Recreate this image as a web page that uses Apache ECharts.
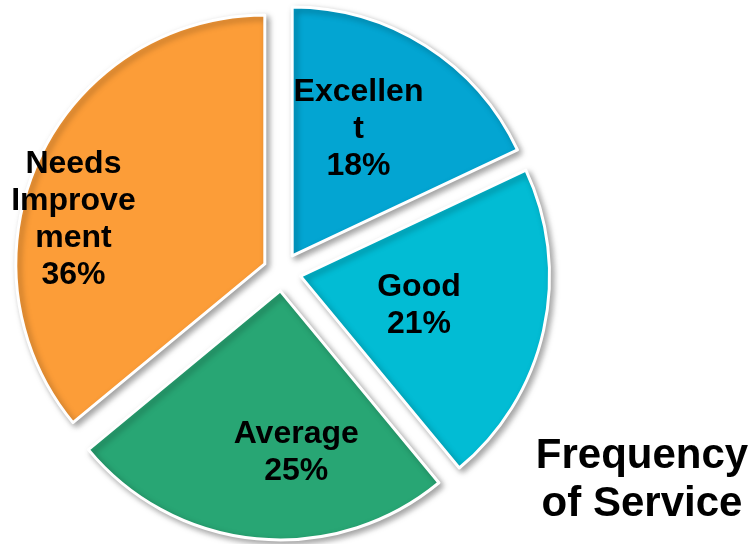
<!DOCTYPE html>
<html lang="en">
<head>
    <meta charset="UTF-8">
    <title>Frequency of Service</title>
    <script src="https://cdn.jsdelivr.net/npm/echarts@6/dist/echarts.min.js"></script>
    <style>
        html, body { margin: 0; padding: 0; background: #fff; }
    </style>
</head>
<body>
<div id="main" style="width:751px; height:544px;"></div>
<script>
    // data
    var categories = ['Excellent', 'Good', 'Average', 'Needs Improvement'];
    var shares = [18, 21, 25, 36];
    // how the names wrap inside the slices
    var wrappedNames = ['Excellen\nt', 'Good', 'Average', 'Needs\nImprove\nment'];

    var colors = ['#03a5d2', '#02bcd4', '#28a674', '#fc9d38'];
    // nudges so the labels sit where the original has them
    var labelShift = [[-2, -19], [-6, 2], [28, 35], [-76, 10]];

    var myChart = echarts.init(document.getElementById('main'));

    var pieData = [];
    for (var i = 0; i < categories.length; i++) {
        pieData.push({
            name: categories[i],
            value: shares[i],
            selected: true,
            itemStyle: { color: colors[i] },
            label: {
                formatter: wrappedNames[i] + '\n' + shares[i] + '%'
            }
        });
    }

    myChart.setOption({
        animation: false,
        title: {
            text: 'Frequency\nof Service',
            left: 637,
            top: 427,
            textAlign: 'center',
            textStyle: {
                fontFamily: 'Liberation Sans, Arial, sans-serif',
                fontWeight: 'bold',
                fontSize: 42,
                lineHeight: 48,
                color: '#000'
            }
        },
        series: [{
            type: 'pie',
            center: [282, 272],
            radius: [0, 249],
            startAngle: 90,
            clockwise: true,
            selectedMode: 'multiple',
            selectedOffset: 19,
            emphasis: { disabled: true },
            itemStyle: {
                borderColor: '#fff',
                borderWidth: 3,
                shadowBlur: 6,
                shadowOffsetX: 3,
                shadowOffsetY: 3,
                shadowColor: 'rgba(0,0,0,0.35)'
            },
            label: {
                show: true,
                position: 'inside',
                color: '#000',
                fontFamily: 'Liberation Sans, Arial, sans-serif',
                fontWeight: 'bold',
                fontSize: 32,
                lineHeight: 37,
                align: 'center'
            },
            labelLayout: function (params) {
                var s = labelShift[params.dataIndex];
                return { dx: s[0], dy: s[1] };
            },
            labelLine: { show: false },
            data: pieData
        }]
    });
</script>
</body>
</html>
